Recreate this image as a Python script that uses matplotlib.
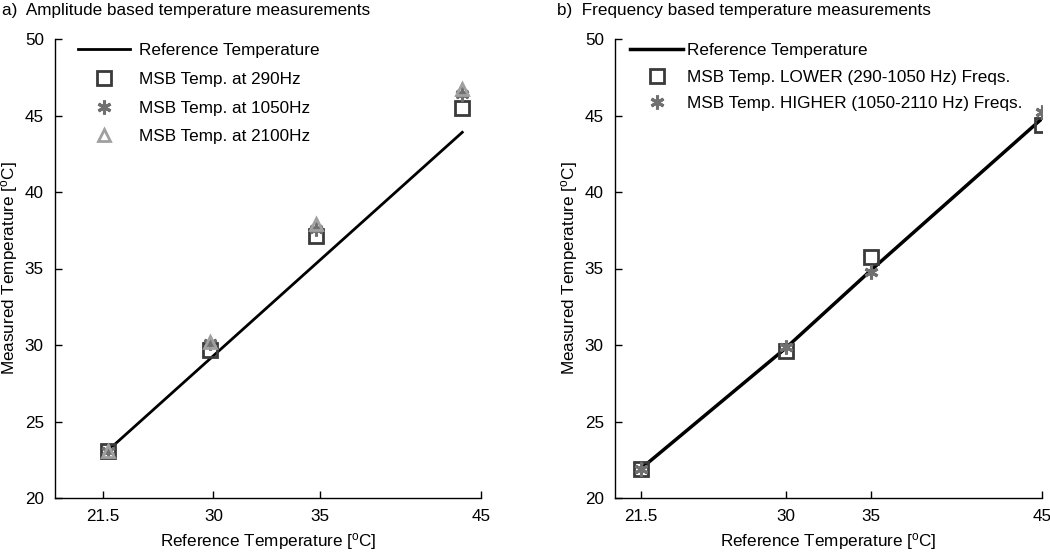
import matplotlib
matplotlib.use("Agg")
import matplotlib.pyplot as plt

plt.rcParams['font.family'] = ['Liberation Sans', 'DejaVu Sans']
plt.rcParams['mathtext.fontset'] = 'custom'
plt.rcParams['mathtext.rm'] = 'Liberation Sans'
plt.rcParams['mathtext.it'] = 'Liberation Sans:italic'

# ---- data: panel a (amplitude based) ----
a_ref = [23.1, 29.1, 35.3, 43.9]          # reference temperature (x, and y of ref line)
a_290 = [23.1, 29.7, 37.1, 45.5]
a_1050 = [23.1, 30.1, 37.6, 46.4]
a_2100 = [23.1, 30.2, 37.9, 46.7]
a_tick_pos = [22.8, 29.3, 35.55, 45.0]
tick_labels = ['21.5', '30', '35', '45']

# ---- data: panel b (frequency based) ----
b_x = [21.5, 30, 35, 45]
b_ref = [21.9, 29.8, 34.9, 44.8]
b_lower = [21.9, 29.6, 35.75, 44.4]
b_higher = [21.9, 29.9, 34.8, 45.25]
b_tick_pos = [21.5, 30, 35, 45]

fig = plt.figure(figsize=(10.5, 5.53), dpi=100)
W, H = 1050, 553
FS = 12.3

def make_ax(x0, x1):
    return fig.add_axes([x0 / W, (H - 498) / H, (x1 - x0) / W, (498 - 39) / H])

axA = make_ax(55, 481)
axB = make_ax(615, 1042)

sq_col = '#3a3a3a'
st_col = '#707070'
tr_col = '#a0a0a0'
asterisk = (6, 2, 0)

def style(ax, ticks, x0, x1, ylab_px):
    ax.set_xlim(20, 45)
    ax.set_ylim(20, 50)
    for s in ['top', 'right']:
        ax.spines[s].set_visible(False)
    for s in ['left', 'bottom']:
        ax.spines[s].set_linewidth(1.0)
    ax.set_xticks(ticks)
    ax.set_xticklabels(tick_labels)
    ax.set_yticks([20, 25, 30, 35, 40, 45, 50])
    ax.tick_params(direction='in', length=5, width=1, labelsize=FS, pad=8)
    ax.set_xlabel(r'Reference Temperature [$^{\rm o}$C]', fontsize=FS, labelpad=5)
    ax.set_ylabel(r'Measured Temperature [$^{\rm o}$C]', fontsize=FS)
    ax.yaxis.set_label_coords((ylab_px - x0) / (x1 - x0), 0.5)

# Panel a
axA.plot(a_ref, a_ref, color='black', lw=2, label='Reference Temperature', zorder=2)
axA.plot(a_ref, a_290, ls='none', marker='s', ms=9.5, mfc='none', mec=sq_col, mew=2,
         label='MSB Temp. at 290Hz', zorder=3)
axA.plot(a_ref, a_1050, ls='none', marker=asterisk, ms=10, color=st_col, mew=2.2,
         label='MSB Temp. at 1050Hz', zorder=3)
axA.plot(a_ref, a_2100, ls='none', marker='^', ms=9, mfc='none', mec=tr_col, mew=2,
         label='MSB Temp. at 2100Hz', zorder=3)
style(axA, a_tick_pos, 55, 481, 20)
axA.legend(loc='upper left', bbox_to_anchor=(0.019, 1.024), frameon=False, fontsize=FS,
           handlelength=3.0, handletextpad=0.54, labelspacing=0.8)

# Panel b
axB.plot(b_x, b_ref, color='black', lw=2.5, label='Reference Temperature', zorder=2)
axB.plot(b_x, b_lower, ls='none', marker='s', ms=9.5, mfc='none', mec=sq_col, mew=2,
         label='MSB Temp. LOWER (290-1050 Hz) Freqs.', zorder=3)
axB.plot(b_x, b_higher, ls='none', marker=asterisk, ms=10, color=st_col, mew=2.2,
         label='MSB Temp. HIGHER (1050-2110 Hz) Freqs.', zorder=3)
style(axB, b_tick_pos, 615, 1042, 580)
axB.legend(loc='upper left', bbox_to_anchor=(0.0, 1.024), frameon=False, fontsize=FS,
           handlelength=3.1, handletextpad=0.2, labelspacing=0.66)

fig.text(2 / W, 1 - 10 / H, 'a)  Amplitude based temperature measurements', fontsize=FS,
         ha='left', va='center')
fig.text(557 / W, 1 - 10 / H, 'b)  Frequency based temperature measurements', fontsize=FS,
         ha='left', va='center')

fig.savefig('out.png', dpi=100)
